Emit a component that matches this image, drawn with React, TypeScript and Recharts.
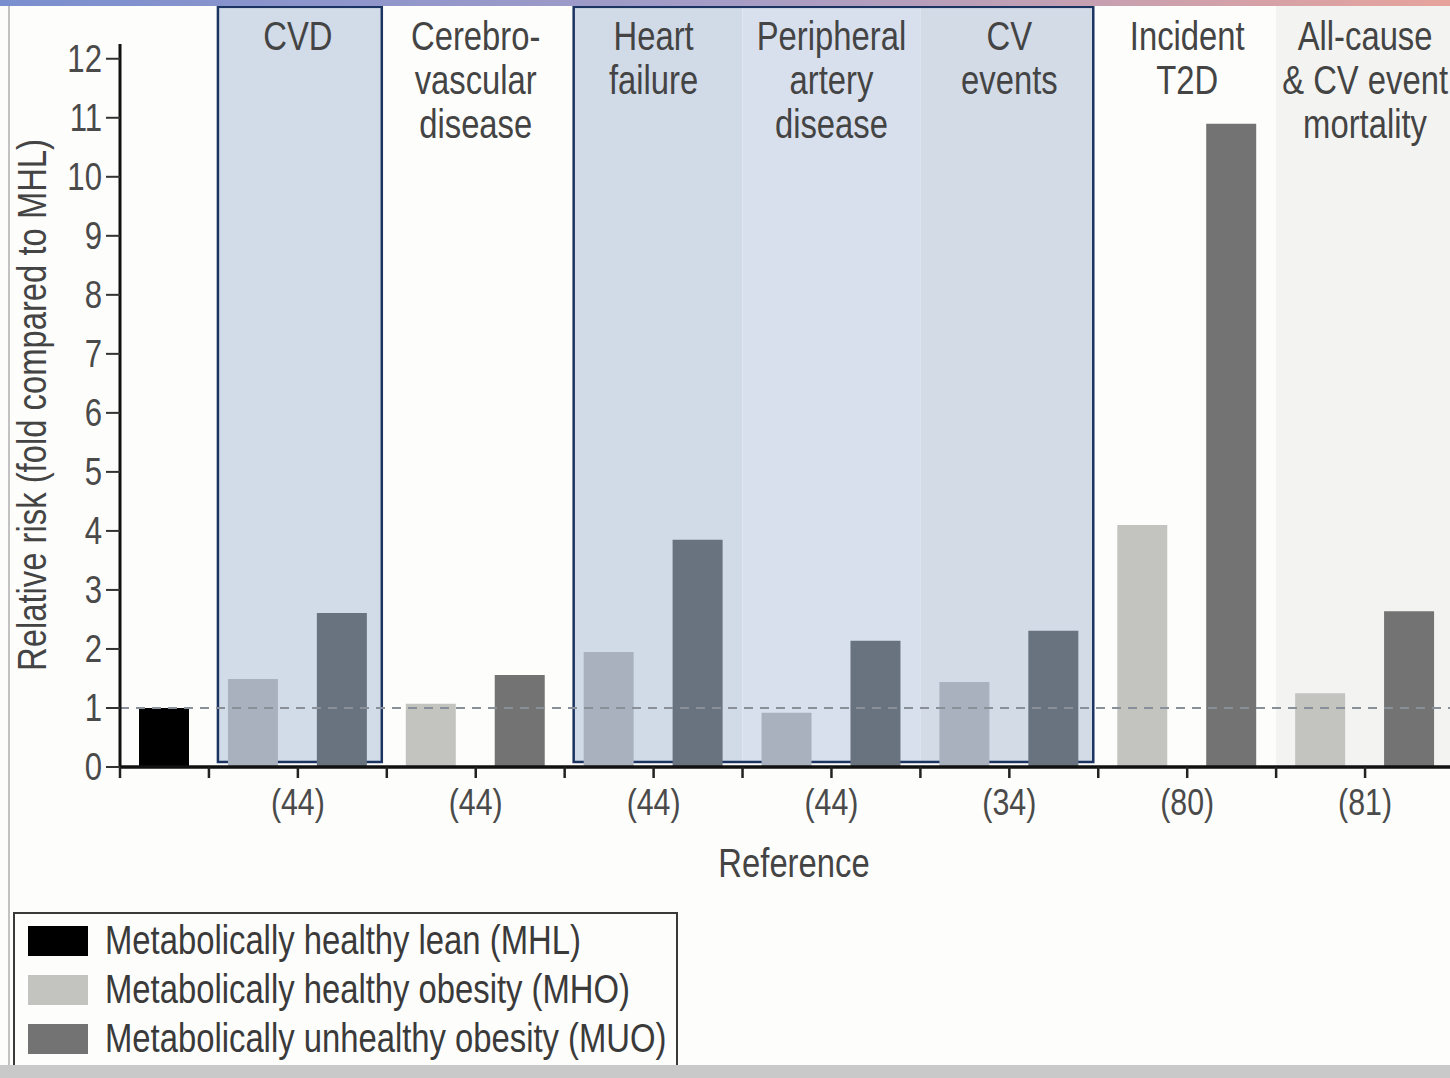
import React from "react";
import { BarChart, Bar, XAxis, YAxis, ReferenceArea, ReferenceLine, Legend, Cell } from "recharts";

const FONT = '"Liberation Sans", Arial, sans-serif';
const NARROW = 0.82; // squeeze Liberation Sans to look like a condensed face

// outcome groups, left to right
const GROUP_LABELS = [
  ["CVD"],
  ["Cerebro-", "vascular", "disease"],
  ["Heart", "failure"],
  ["Peripheral", "artery", "disease"],
  ["CV", "events"],
  ["Incident", "T2D"],
  ["All-cause", "& CV event", "mortality"],
];
const REFERENCES = ["(44)", "(44)", "(44)", "(44)", "(34)", "(80)", "(81)"];
const MHL_VALUE = 1.0;
const MHO_VALUES = [1.49, 1.07, 1.95, 0.92, 1.44, 4.1, 1.25];
const MUO_VALUES = [2.61, 1.56, 3.85, 2.14, 2.31, 10.9, 2.64];
const Y_TICKS = [0, 1, 2, 3, 4, 5, 6, 7, 8, 9, 10, 11, 12];

const SERIES = [
  { key: "mhl", name: "Metabolically healthy lean (MHL)", color: "#000000" },
  { key: "mho", name: "Metabolically healthy obesity (MHO)", color: "#c3c4c0" },
  { key: "muo", name: "Metabolically unhealthy obesity (MUO)", color: "#737373" },
];

// groups sitting inside the blue boxes and their tints
const BLUE_GROUPS = [0, 2, 3, 4];
const GROUP_TINT: (string | null)[] = ["#d2dbe8", null, "#d1dae7", "#d9e0ed", "#d3dbe7", null, "#f3f4f1"];
const BOXES = [
  { first: 0, last: 0 },
  { first: 2, last: 4 },
];

// one slot per bar: MHL first, then MHO / MUO for each group
const rows: any[] = [{ slot: "MHL", group: -1, mhl: MHL_VALUE }];
GROUP_LABELS.forEach((g, i) => {
  rows.push({ slot: g.join(" ") + " MHO", group: i, mho: MHO_VALUES[i] });
  rows.push({ slot: g.join(" ") + " MUO", group: i, muo: MUO_VALUES[i] });
});
rows.forEach((r, i) => (r.idx = i));
const SLOT_COUNT = rows.length;
const SLOT_TICKS = Array.from({ length: SLOT_COUNT + 1 }, (_, i) => i);
const GROUP_CENTERS = GROUP_LABELS.map((_, i) => 2 + 2 * i);

const cellFill = (key: string, group: number) => {
  const blue = BLUE_GROUPS.includes(group);
  if (key === "mhl") return "#000000";
  if (key === "mho") return blue ? "#a9b1bf" : "#c3c4c0";
  return blue ? "#69727f" : "#737373";
};

const insetRect = (l: number, r: number, fill: string, stroke = "none") => (p: any) => (
  <rect
    x={p.x + l}
    y={p.y}
    width={Math.max(0, p.width - l - r)}
    height={p.height}
    fill={fill}
    stroke={stroke}
    strokeWidth={2.5}
  />
);

const BOX_TOP = 12.88;
const BOX_BOTTOM = 0.085;

const NText = ({ x, y, size, anchor = "middle", rotate = 0, fill = "#444", children }: any) => (
  <text
    transform={`translate(${x},${y}) rotate(${rotate}) scale(${NARROW},1)`}
    x={0}
    y={0}
    textAnchor={anchor}
    fontFamily={FONT}
    fontSize={size}
    fill={fill}
  >
    {children}
  </text>
);

const GroupTick = ({ x, payload }: any) => {
  const lines = GROUP_LABELS[payload.value / 2 - 1] || [];
  return (
    <g>
      {lines.map((t, i) => (
        <NText key={i} x={x} y={50 + i * 44} size={40}>
          {t}
        </NText>
      ))}
    </g>
  );
};

const RefTick = ({ x, y, payload }: any) => {
  const v = payload.value;
  const t = v >= 2 && v % 2 === 0 ? REFERENCES[v / 2 - 1] : "";
  return (
    <NText x={x} y={y + 27} size={37} fill="#4a4a4a">
      {t}
    </NText>
  );
};

const YTick = ({ x, y, payload }: any) => (
  <NText x={x} y={y + 13} size={38} anchor="end" fill="#4a4a4a">
    {payload.value}
  </NText>
);

const YTitle = () => (
  <NText x={46} y={405} size={40} rotate={-90}>
    Relative risk (fold compared to MHL)
  </NText>
);

const XTitle = ({ viewBox }: any) => (
  <NText x={viewBox.x + viewBox.width / 2 + 7} y={viewBox.y + 110} size={40}>
    Reference
  </NText>
);

const LegendBox = ({ payload }: any) => (
  <div
    style={{
      border: "2px solid #3a3a3a",
      width: 665,
      height: 160,
      boxSizing: "border-box",
      padding: "2px 0 0 13px",
      background: "#fdfdfb",
      fontFamily: FONT,
      fontSize: 40,
      color: "#3a3a3a",
    }}
  >
    {(payload || []).map((p: any) => (
      <div key={p.value} style={{ display: "flex", alignItems: "center", height: 49, whiteSpace: "nowrap" }}>
        <span style={{ display: "inline-block", flex: "none", width: 60, height: 30, background: p.color, marginRight: 17 }} />
        <span style={{ display: "inline-block", transform: `scaleX(${NARROW})`, transformOrigin: "left center" }}>{p.value}</span>
      </div>
    ))}
  </div>
);

export default function App() {
  return (
    <div style={{ position: "fixed", top: 0, left: 0, width: 1450, height: 1078, overflow: "hidden", background: "#fdfdfb" }}>
      <BarChart width={1470} height={1078} data={rows} margin={{ top: 43, right: 16, left: 0, bottom: 161 }}>
        {GROUP_TINT.map((fill, i) => {
          if (!fill) return null;
          const box = BOXES.find((b) => i >= b.first && i <= b.last);
          const l = box && box.first === i ? 9 : 0;
          const r = box && box.last === i ? 5 : 0;
          return (
            <ReferenceArea
              key={"tint" + i}
              xAxisId="num"
              x1={1 + 2 * i}
              x2={3 + 2 * i}
              y1={box ? BOX_BOTTOM : 0}
              y2={box ? BOX_TOP : 13}
              ifOverflow="visible"
              shape={insetRect(l, r, fill)}
            />
          );
        })}
        <XAxis
          xAxisId="num"
          dataKey="idx"
          type="number"
          domain={[0, SLOT_COUNT]}
          allowDataOverflow
          ticks={SLOT_TICKS}
          interval={0}
          height={150}
          tick={<RefTick />}
          tickSize={11}
          tickMargin={10}
          axisLine={{ stroke: "#111", strokeWidth: 3.5 }}
          tickLine={{ stroke: "#222", strokeWidth: 2.5 }}
          label={<XTitle />}
        />
        <XAxis xAxisId="cat" dataKey="slot" type="category" hide height={0} />
        <XAxis
          xAxisId="top"
          dataKey="idx"
          orientation="top"
          type="number"
          domain={[0, SLOT_COUNT]}
          allowDataOverflow
          ticks={GROUP_CENTERS}
          interval={0}
          height={1}
          axisLine={false}
          tickLine={false}
          tick={<GroupTick />}
        />
        <YAxis
          domain={[0, 12.25]}
          allowDataOverflow
          ticks={Y_TICKS}
          interval={0}
          width={120}
          tick={<YTick />}
          tickSize={14}
          tickMargin={4}
          axisLine={{ stroke: "#111", strokeWidth: 3 }}
          tickLine={{ stroke: "#333", strokeWidth: 2 }}
          label={<YTitle />}
        />
        {SERIES.map((s) => (
          <Bar
            key={s.key}
            dataKey={s.key}
            name={s.name}
            fill={s.color}
            stackId="risk"
            xAxisId="cat"
            barSize={50}
            isAnimationActive={false}
          >
            {rows.map((r, i) => (
              <Cell key={i} fill={cellFill(s.key, r.group)} />
            ))}
          </Bar>
        ))}
        <ReferenceLine xAxisId="num" y={1} stroke="#8a909a" strokeWidth={2} strokeDasharray="9 7" />
        {BOXES.map((b, i) => (
          <ReferenceArea
            key={"box" + i}
            xAxisId="num"
            x1={1 + 2 * b.first}
            x2={3 + 2 * b.last}
            y1={BOX_BOTTOM}
            y2={BOX_TOP}
            ifOverflow="visible"
            shape={insetRect(9, 5, "none", "#1c3461")}
          />
        ))}
        <Legend
          layout="horizontal"
          verticalAlign="middle"
          align="center"
          wrapperStyle={{ left: 13, top: 912, width: 665 }}
          content={<LegendBox />}
        />
      </BarChart>
      <div
        style={{
          position: "absolute",
          top: 0,
          left: 0,
          width: 1450,
          height: 6,
          background: "linear-gradient(to right, #7a8fcf, #a59dc6 50%, #e6a39c)",
        }}
      />
      <div style={{ position: "absolute", top: 6, left: 8, width: 2, height: 1060, background: "#c2c2c2" }} />
      <div style={{ position: "absolute", top: 1065, left: 0, width: 1450, height: 13, background: "#c9c9c9" }} />
    </div>
  );
}
